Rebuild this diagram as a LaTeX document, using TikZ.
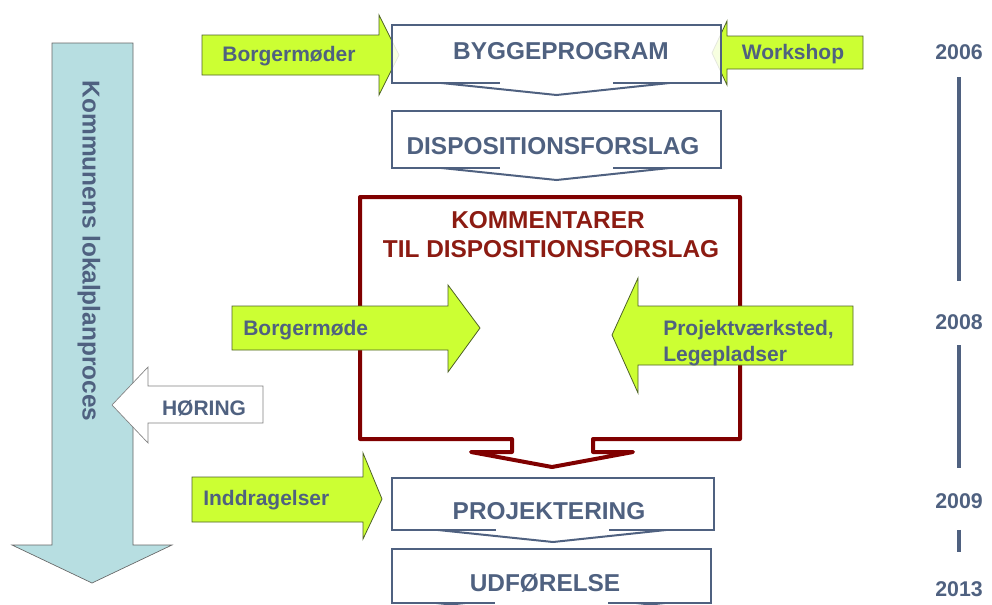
\documentclass[tikz,border=0pt]{standalone}
\usepackage{fontspec}
\setmainfont{Liberation Sans}
\usepackage{tikz}
\usepackage{xcolor}
\definecolor{PlanSlate}{HTML}{4F6180}
\definecolor{PlanGreen}{HTML}{CCFF33}
\definecolor{PlanOlive}{HTML}{4F6228}
\definecolor{PlanRed}{HTML}{800000}
\definecolor{PlanRedText}{HTML}{8C1B12}
\definecolor{PlanBlue}{HTML}{B7DEE1}

\begin{document}
\begin{tikzpicture}[x=0.75pt, y=-0.75pt,
  greenarrow/.style={draw=PlanOlive, fill=PlanGreen, line width=0.6pt},
  flowbox/.style={draw=PlanSlate, line width=1.5pt},
  smalltext/.style={font=\bfseries\fontsize{15.75}{19}\selectfont, text=PlanSlate, inner sep=0pt},
  bigtext/.style={font=\bfseries\fontsize{18.3}{22}\selectfont, text=PlanSlate, inner sep=0pt},
  yeartext/.style={font=\bfseries\fontsize{16}{19}\selectfont, text=PlanSlate, inner sep=0pt},
  timeline/.style={draw=PlanSlate, line width=3pt}]
  \useasboundingbox (0,0) rectangle (992,604);
  \clip (0,0) rectangle (992,604);

  % municipal process arrow
  \draw[fill=PlanBlue, draw=black!60, line width=0.5pt]
    (52,43) -- (133,43) -- (133,545) -- (172,545) -- (92,583) -- (12,545) -- (52,545) -- cycle;
  \node[bigtext, rotate=-90] (proces) at (89,251) {Kommunens lokalplanproces};
  \draw[fill=white, draw=black!50, line width=0.5pt]
    (263,386) -- (148,386) -- (148,367) -- (112,405) -- (148,443) -- (148,423) -- (263,423) -- cycle;
  \node[smalltext, anchor=base] (horing) at (204,415) {HØRING};

  % comments frame
  \draw[draw=PlanRed, line width=3pt, line join=round, line cap=round]
    (512,452) -- (512,439) -- (360,439) -- (360,197) -- (740,197) -- (740,439) -- (593,439)
    -- (593,452) -- (633,452) -- (552,467) -- (471,452) -- cycle;
  \node[bigtext, text=PlanRedText, anchor=base] (komm) at (548,228) {KOMMENTARER};
  \node[bigtext, text=PlanRedText, anchor=base] (tildisp) at (551,257) {TIL DISPOSITIONSFORSLAG};

  % input arrows
  \draw[greenarrow] (202,35) -- (379,35) -- (379,15) -- (399,55) -- (379,95) -- (379,75) -- (202,75) -- cycle;
  \draw[greenarrow] (863,36) -- (727,36) -- (727,21) -- (712,53) -- (727,85) -- (727,69) -- (863,69) -- cycle;
  \draw[greenarrow] (232,306) -- (448,306) -- (448,285) -- (480,328) -- (448,372) -- (448,350) -- (232,350) -- cycle;
  \draw[greenarrow] (853,306) -- (638,306) -- (638,278) -- (612,335) -- (638,393) -- (638,365) -- (853,365) -- cycle;
  \draw[greenarrow] (192,477) -- (363,477) -- (363,453) -- (382,499) -- (363,539) -- (363,522) -- (192,522) -- cycle;
  \node[smalltext, anchor=base] (borgermoeder) at (289,61) {Borgermøder};
  \node[smalltext, anchor=base] (workshop) at (793,59) {Workshop};
  \node[smalltext, anchor=base west] (borgermoede) at (243,335) {Borgermøde};
  \node[smalltext, anchor=base west] (projekt) at (663,335) {Projektværksted,};
  \node[smalltext, anchor=base west] (lege) at (663,361) {Legepladser};
  \node[smalltext, anchor=base west] (inddrag) at (203,505) {Inddragelser};

  % phase boxes
  \foreach \ya/\yb/\xr in {25/83/721, 111/168/721, 478/530/714, 549/603/711} {
    \pgfmathsetmacro\xm{(392+\xr)/2}
    \fill[white, opacity=0.85] (392,\ya) rectangle (\xr,\yb);
    \draw[flowbox] (\xm-57,\yb) -- (392,\yb) -- (392,\ya) -- (\xr,\ya) -- (\xr,\yb) -- (\xm+56,\yb);
    \draw[flowbox] (\xm-115,\yb) -- (\xm,\yb+12) -- (\xm+113,\yb);
  }
  \node[bigtext, anchor=base] (bygge) at (561,59) {BYGGEPROGRAM};
  \node[bigtext, anchor=base] (dispo) at (553,154) {DISPOSITIONSFORSLAG};
  \node[bigtext, anchor=base] (projektering) at (549,519) {PROJEKTERING};
  \node[bigtext, anchor=base] (udfoerelse) at (545,591) {UDFØRELSE};

  % years
  \node[yeartext, anchor=base] (y2006) at (959,59) {2006};
  \node[yeartext, anchor=base] (y2008) at (959,329) {2008};
  \node[yeartext, anchor=base] (y2009) at (959,508) {2009};
  \node[yeartext, anchor=base] (y2013) at (959,596) {2013};
  \draw[timeline, shorten <=13.5pt, shorten >=25pt] (y2006.south) -- (y2008.north);
  \draw[timeline, shorten <=12pt, shorten >=19pt] (y2008.south) -- (y2009.north);
  \draw[timeline, shorten <=16pt, shorten >=22pt] (y2009.south) -- (y2013.north);
\end{tikzpicture}
\end{document}
